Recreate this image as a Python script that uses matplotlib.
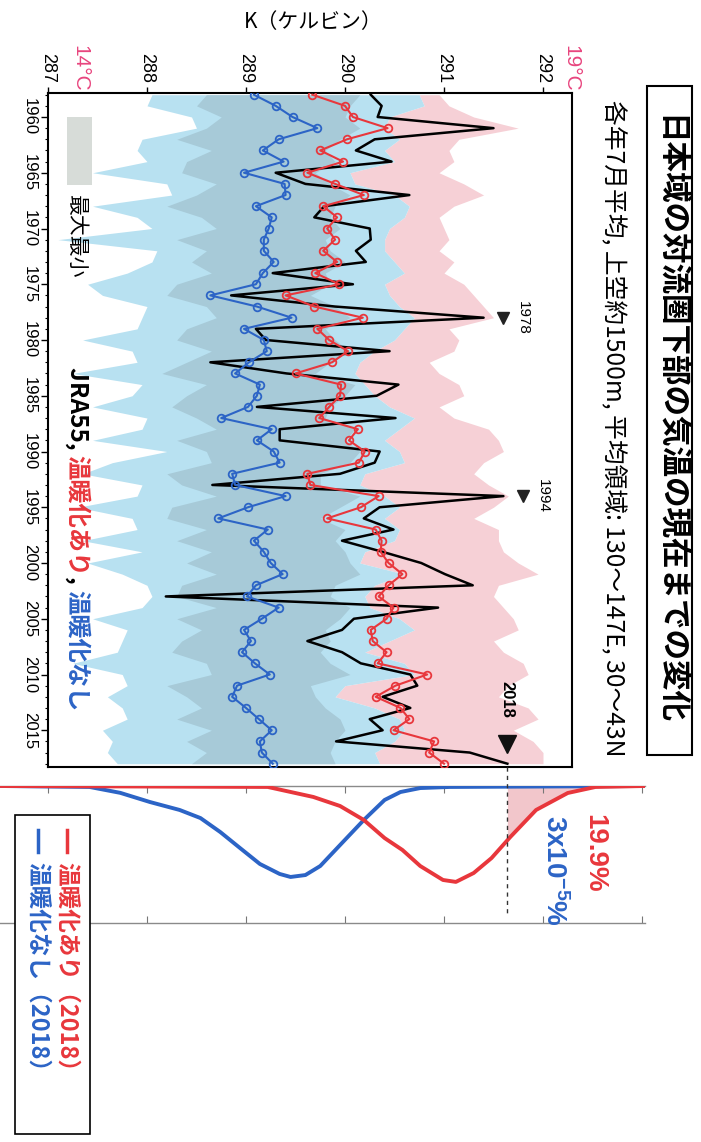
import matplotlib
matplotlib.use('Agg')
import matplotlib.pyplot as plt
import numpy as np
from matplotlib.patches import Rectangle
from matplotlib.lines import Line2D

plt.rcParams['font.family'] = ['Noto Sans CJK JP', 'DejaVu Sans']
plt.rcParams['mathtext.fontset'] = 'custom'
plt.rcParams['mathtext.rm'] = 'Liberation Sans'
plt.rcParams['mathtext.bf'] = 'Liberation Sans:bold'

# ---------------- data ----------------
years = list(range(1958, 2019))

black_obs = [290.26, 290.37, 290.33, 291.50, 290.30, 290.11, 290.47, 289.30, 289.60, 290.65,
             289.79, 289.69, 290.25, 290.26, 290.11, 290.21, 289.27, 290.08, 288.85, 289.90, 291.40,
             289.10, 289.20, 290.45, 288.64, 289.41, 290.54, 290.32, 289.11, 290.51, 289.34,
             289.34, 290.35, 290.30, 289.95, 288.66, 291.60, 290.35, 290.19, 290.49,
             289.97, 290.38, 290.77, 291.01, 291.29, 288.19, 290.94, 290.09, 289.97, 289.62,
             289.97, 290.16, 290.66, 290.73, 290.38, 290.66, 290.25, 290.38, 289.91, 291.26, 291.64]

red_warm = [289.67, 290.00, 290.08, 290.43, 290.02, 289.75, 289.98, 289.62, 289.90, 290.19,
            289.78, 289.92, 289.82, 289.90, 289.78, 289.92, 289.70, 289.94, 289.40, 289.69, 290.18,
            289.72, 289.84, 290.03, 289.87, 289.50, 289.96, 289.95, 289.84, 289.74, 290.13,
            290.04, 290.20, 290.14, 289.62, 289.65, 290.34, 290.16, 289.82, 290.31,
            290.37, 290.36, 290.44, 290.58, 290.44, 290.34, 290.49, 290.42, 290.26, 290.28,
            290.42, 290.33, 290.83, 290.51, 290.31, 290.56, 290.65, 290.49, 290.90, 290.85, 291.00]

blue_nowarm = [289.08, 289.30, 289.47, 289.72, 289.33, 289.17, 289.38, 288.98, 289.39, 289.40,
               289.10, 289.26, 289.23, 289.18, 289.18, 289.28, 289.17, 289.10, 288.64, 289.11, 289.46,
               288.98, 289.18, 289.21, 289.03, 288.89, 289.14, 289.11, 289.02, 288.75, 289.26,
               289.11, 289.28, 289.34, 288.86, 288.89, 289.40, 289.02, 288.72, 289.22,
               289.08, 289.18, 289.25, 289.37, 289.10, 289.01, 289.33, 289.16, 288.98, 289.05,
               288.96, 289.09, 289.24, 288.91, 288.86, 289.00, 289.13, 289.26, 289.14, 289.16, 289.27]

pink_max = [290.95, 291.05, 291.30, 291.75, 291.15, 291.05, 291.10, 290.95, 291.20, 291.40,
            291.10, 290.95, 291.00, 291.05, 290.95, 291.10, 291.00, 291.20, 291.30, 291.40, 291.50,
            291.05, 291.15, 291.10, 290.85, 290.95, 291.15, 291.20, 290.95, 291.10, 291.45,
            291.55, 291.60, 291.40, 291.30, 291.45, 291.65, 291.50, 291.30, 291.55,
            291.55, 291.60, 291.75, 291.95, 291.55, 291.50, 291.60, 291.70, 291.75, 291.50,
            291.60, 291.80, 291.85, 291.65, 291.55, 291.85, 291.95, 291.70, 291.90, 292.00, 292.00]

sky_max = [290.75, 290.80, 290.45, 290.40, 290.55, 290.40, 290.50, 290.05, 290.10, 290.50,
           290.65, 290.60, 290.45, 290.40, 290.40, 290.50, 290.60, 290.40, 290.45, 290.55, 290.70,
           290.60, 290.50, 290.30, 290.15, 290.10, 290.20, 290.30, 290.45, 290.70, 290.55,
           290.40, 290.55, 290.60, 290.20, 290.15, 290.40, 290.55, 290.40, 290.55,
           290.50, 290.20, 290.15, 290.60, 290.30, 290.20, 290.25, 290.55, 290.70, 290.45,
           290.20, 290.60, 290.70, 290.00, 289.90, 290.30, 290.55, 290.60, 290.50, 290.30, 290.35]

sky_min = [288.05, 288.00, 288.45, 288.50, 287.95, 287.90, 288.00, 287.45, 288.20, 288.25,
           287.45, 287.90, 288.05, 287.10, 288.10, 288.05, 287.80, 287.40, 287.55, 288.00, 287.95,
           287.90, 287.35, 287.85, 287.90, 287.25, 287.95, 287.85, 287.45, 288.00, 287.95,
           287.45, 288.20, 287.65, 287.35, 287.95, 287.90, 287.30, 287.85, 287.90,
           287.35, 287.95, 287.40, 287.75, 288.00, 288.05, 287.95, 287.45, 287.80, 287.75,
           287.70, 287.25, 287.75, 287.80, 287.60, 287.75, 287.80, 287.55, 287.65, 287.60, 287.70]

dark_min = [288.60, 288.50, 288.75, 288.60, 288.30, 288.65, 288.40, 288.35, 288.70, 288.50,
            288.20, 288.55, 288.70, 288.30, 288.60, 288.45, 288.65, 288.30, 288.20, 288.60, 288.70,
            288.40, 288.30, 288.65, 288.40, 288.15, 288.60, 288.40, 288.25, 288.50, 288.70,
            288.30, 288.60, 288.65, 288.20, 288.35, 288.70, 288.25, 288.20, 288.60,
            288.30, 288.65, 288.40, 288.70, 288.35, 288.30, 288.70, 288.30, 288.55, 288.35,
            288.25, 288.60, 288.65, 288.20, 288.40, 288.55, 288.30, 288.65, 288.40, 288.60, 288.45]

dark_max = [290.15, 290.05, 290.00, 290.15, 289.95, 289.80, 289.90, 289.70, 289.85, 290.05,
            289.90, 289.85, 289.95, 289.80, 289.85, 290.00, 289.80, 289.85, 289.65, 289.90, 290.05,
            289.80, 289.90, 290.05, 289.85, 289.70, 290.10, 290.00, 289.85, 289.80, 290.10,
            290.00, 290.15, 290.05, 289.75, 289.75, 290.15, 289.95, 289.75, 290.00,
            289.90, 290.00, 290.05, 290.15, 289.90, 289.85, 290.05, 289.95, 289.80, 289.85,
            289.75, 289.85, 290.05, 289.65, 289.70, 289.80, 289.95, 290.00, 289.90, 289.85, 289.90]

k_ticks = [287, 288, 289, 290, 291, 292]
year_ticks = [1960, 1965, 1970, 1975, 1980, 1985, 1990, 1995, 2000, 2005, 2010, 2015]
marked_years = [1978, 1994]

# 2018 distributions
dist_T_blue = [286.52, 287.42, 287.73, 288.03, 288.33, 288.54, 288.74, 288.94, 289.14, 289.34,
               289.45, 289.60, 289.75, 289.95, 290.19, 290.40, 290.56, 290.76, 291.06, 293.03]
dist_blue = [0, 0.007, 0.05, 0.117, 0.175, 0.234, 0.336, 0.453, 0.569, 0.642,
             0.664, 0.650, 0.584, 0.431, 0.248, 0.102, 0.044, 0.015, 0.007, 0]
dist_T_red = [286.52, 289.22, 289.68, 289.95, 290.19, 290.40, 290.58, 290.76, 290.99, 291.12,
              291.30, 291.48, 291.67, 291.93, 292.25, 292.53, 293.03]
dist_red = [0, 0.007, 0.08, 0.146, 0.248, 0.38, 0.467, 0.584, 0.686, 0.70,
            0.635, 0.526, 0.372, 0.175, 0.051, 0.007, 0]

# ---------------- layout helpers ----------------
W, H = 701, 1142
fig = plt.figure(figsize=(W / 100, H / 100), dpi=100)


def fx(x):
    return x / W


def fy(y):
    return 1 - y / H


def rect(l, t, r, b):
    return [l / W, 1 - b / H, (r - l) / W, (b - t) / H]


RED = '#e8373c'
BLUE = '#2c64c6'
PINKTXT = '#e8457e'
NUM = ['Liberation Sans', 'DejaVu Sans']

# ---------------- main panel ----------------
ax = fig.add_axes(rect(48, 93, 572, 767))
ax.set_xlim(287, 287 + 524 / 99)
ax.set_ylim(1960 + (767 - 117) / 11.15, 1960 - (117 - 93) / 11.15)

ax.fill_betweenx(years, sky_max, pink_max, color='#f6d0d6', lw=0, zorder=1)
ax.fill_betweenx(years, sky_min, sky_max, color='#b8e1f1', lw=0, zorder=1.2)
ax.fill_betweenx(years, dark_min, dark_max, color='#a7cad8', lw=0, zorder=1.4)

ax.plot(black_obs, years, color='black', lw=1.8, zorder=3)
ax.plot(red_warm, years, color=RED, lw=1.5, marker='o', ms=5.5, mfc='none', mec=RED, mew=1.3, zorder=4)
ax.plot(blue_nowarm, years, color=BLUE, lw=1.5, marker='o', ms=5.5, mfc='none', mec=BLUE, mew=1.3, zorder=4)

ax.xaxis.tick_top()
ax.set_xticks(k_ticks)
ax.set_xticklabels([str(k) for k in k_ticks], rotation=-90, ha='center', va='bottom',
                   fontsize=13, family=NUM)
ax.set_yticks(year_ticks)
ax.set_yticklabels([str(y) for y in year_ticks], rotation=-90, ha='right', va='center',
                   fontsize=12, family=NUM)
ax.set_yticks(years, minor=True)
ax.tick_params(axis='x', direction='out', length=4, width=1, pad=3)
ax.tick_params(axis='y', which='major', direction='out', length=5, width=1, pad=3)
ax.tick_params(axis='y', which='minor', direction='out', length=2.5, width=0.8)
for s in ax.spines.values():
    s.set_linewidth(1.5)

# markers of notable years
for yr in marked_years:
    v = black_obs[years.index(yr)]
    ax.plot([v + 0.2], [yr], marker='v', color='#222222', ms=9, zorder=5, clip_on=False)
    ax.annotate(str(yr), xy=(v + 0.2, yr), xytext=(14, 0), textcoords='offset points',
                rotation=-90, ha='center', va='center', fontsize=11, family=NUM)
v18 = black_obs[-1]
ax.plot([v18], [years[-1] - 1.8], marker='v', color='#111111', ms=13, zorder=5)
ax.annotate('2018', xy=(v18, years[-1] - 1.8), xytext=(0, 32), textcoords='offset points',
            rotation=-90, ha='center', va='center', fontsize=12, fontweight='bold', family=NUM)

# min/max legend swatch
fig.add_artist(Rectangle((fx(67), fy(185)), (92 - 67) / W, (185 - 117) / H,
                         transform=fig.transFigure, color='#d7dcd8', lw=0, zorder=5))
fig.text(fx(76), fy(195), '最大最小', rotation=-90, ha='center', va='top', fontsize=15)

# multicolour vertical caption
fig.canvas.draw()
rend = fig.canvas.get_renderer()
ycur = 367
for s, c in [('JRA55, ', 'black'), ('温暖化あり', RED), (', ', 'black'), ('温暖化なし', BLUE)]:
    t = fig.text(fx(77), fy(ycur), s, rotation=-90, ha='center', va='top', color=c,
                 fontsize=17.5, fontweight='bold')
    bb = t.get_window_extent(renderer=rend)
    ycur += bb.height

# axis titles
fig.text(fx(313), fy(22), 'K（ケルビン）', ha='center', va='center', fontsize=15)
fig.text(fx(80), fy(68), '14°C', rotation=-90, ha='center', va='center', fontsize=15,
         color=PINKTXT, family=NUM)
fig.text(fx(571), fy(68), '19°C', rotation=-90, ha='center', va='center', fontsize=15,
         color=PINKTXT, family=NUM)

# title box and subtitle
fig.add_artist(Rectangle((fx(647), fy(755)), (692 - 647) / W, (755 - 86) / H,
                         transform=fig.transFigure, fill=False, ec='black', lw=1.5))
fig.text(fx(670), fy(420), '日本域の対流圏下部の気温の現在までの変化', rotation=-90,
         ha='center', va='center', fontsize=22, fontweight='bold')
fig.text(fx(613), fy(428), '各年7月平均, 上空約1500m, 平均領域: 130～147E, 30～43N',
         rotation=-90, ha='center', va='center', fontsize=17.8)

# ---------------- distribution panel ----------------
ax2 = fig.add_axes(rect(0, 786, 645, 923))
ax2.set_xlim(287 - 48 / 99, 287 + 597 / 99)
ax2.set_ylim(1, 0)
ax2.patch.set_alpha(0)
for side in ['left', 'right']:
    ax2.spines[side].set_visible(False)
for side in ['top', 'bottom']:
    ax2.spines[side].set_color('#8a8a8a')
    ax2.spines[side].set_linewidth(1)
ax2.set_xticks([287, 288, 289, 290, 291, 292, 293])
ax2.set_yticks([])
ax2.tick_params(axis='x', which='both', direction='in', top=True, bottom=True,
                labelbottom=False, length=5, color='#777777')

thr = black_obs[-1]
Tr = np.array(dist_T_red)
dr = np.array(dist_red)
mask = Tr > thr
Ts = np.concatenate([[thr], Tr[mask]])
ds = np.concatenate([[np.interp(thr, Tr, dr)], dr[mask]])
ax2.fill_between(Ts, 0, ds, color='#f2c6cb', lw=0, zorder=1)
ax2.plot(dist_T_blue, dist_blue, color=BLUE, lw=2.8, solid_joinstyle='round', zorder=3)
ax2.plot(dist_T_red, dist_red, color=RED, lw=2.8, solid_joinstyle='round', zorder=3)
ax2.plot([thr, thr], [-0.14, 0.94], color='#333333', lw=1, ls=(0, (3, 3)), clip_on=False, zorder=4)

fig.text(fx(594), fy(853), '19.9%', rotation=-90, ha='center', va='center', fontsize=20,
         fontweight='bold', color=RED, family=NUM)
fig.text(fx(554), fy(870), r'3x10$\mathbf{^{-5}}$%', rotation=-90, ha='center', va='center',
         fontsize=20, fontweight='bold', color=BLUE, family=NUM)

# legend of the lower panel
fig.add_artist(Rectangle((fx(15), fy(1134)), (90 - 15) / W, (1134 - 815) / H,
                         transform=fig.transFigure, fc='white', ec='black', lw=1.2, zorder=6))
fig.add_artist(Line2D([fx(67), fx(67)], [fy(830), fy(852)], color=RED, lw=2.5, zorder=7))
fig.add_artist(Line2D([fx(38), fx(38)], [fy(830), fy(852)], color=BLUE, lw=2.5, zorder=7))
fig.text(fx(67), fy(862), '温暖化あり（2018）', rotation=-90, ha='center', va='top',
         fontsize=17, fontweight='bold', color=RED, zorder=8)
fig.text(fx(38), fy(862), '温暖化なし（2018）', rotation=-90, ha='center', va='top',
         fontsize=17, fontweight='bold', color=BLUE, zorder=8)

fig.savefig('out.png', dpi=100)
